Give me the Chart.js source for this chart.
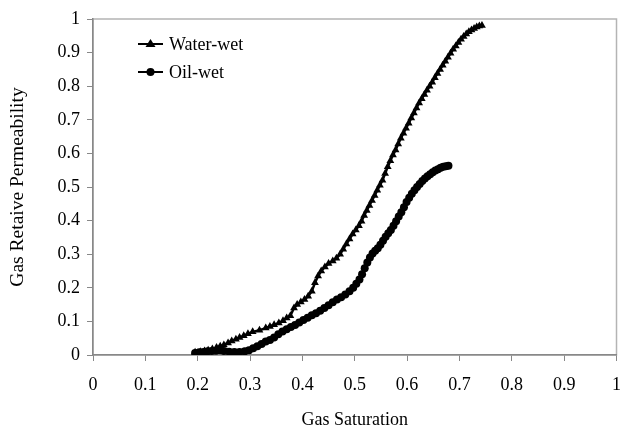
<!DOCTYPE html>
<html>
<head>
<meta charset="utf-8">
<script src="https://cdn.jsdelivr.net/npm/chart.js@4"></script>
<style>
  html, body { margin: 0; padding: 0; background: #fff; }
  #wrap { width: 634px; height: 427px; }
</style>
</head>
<body>
<div id="wrap"><canvas id="chart" width="634" height="427"></canvas></div>
<script>
const seriesNames = ['Water-wet', 'Oil-wet'];
const xTicks = [0, 0.1, 0.2, 0.3, 0.4, 0.5, 0.6, 0.7, 0.8, 0.9, 1];
const yTicks = [0, 0.1, 0.2, 0.3, 0.4, 0.5, 0.6, 0.7, 0.8, 0.9, 1];

// Water-wet: gas saturation / gas relative permeability
const waterSg = [0.195, 0.205, 0.213, 0.22, 0.228, 0.236, 0.243, 0.25, 0.258, 0.265, 0.273, 0.28, 0.288, 0.296, 0.305,
  0.318, 0.33, 0.338, 0.346, 0.355, 0.363, 0.37, 0.377, 0.384, 0.39, 0.397, 0.404, 0.411, 0.418, 0.424, 0.43, 0.436,
  0.443, 0.45, 0.458, 0.465, 0.472, 0.478, 0.484, 0.49, 0.496, 0.502, 0.508, 0.513, 0.518, 0.523, 0.528, 0.533, 0.538,
  0.543, 0.548, 0.553, 0.558, 0.563, 0.568, 0.573, 0.578, 0.583, 0.588, 0.593, 0.598, 0.603, 0.608, 0.613, 0.618,
  0.623, 0.628, 0.633, 0.638, 0.643, 0.648, 0.653, 0.658, 0.663, 0.668, 0.673, 0.678, 0.683, 0.688, 0.693, 0.698,
  0.703, 0.708, 0.713, 0.718, 0.723, 0.728, 0.733, 0.738, 0.743];
const waterKrg = [0.008, 0.010, 0.012, 0.014, 0.018, 0.022, 0.026, 0.03, 0.036, 0.042, 0.047, 0.052, 0.057, 0.063, 0.069,
  0.074, 0.08, 0.085, 0.09, 0.095, 0.102, 0.11, 0.117, 0.14, 0.15, 0.158, 0.165, 0.175, 0.19, 0.215, 0.235, 0.25,
  0.262, 0.272, 0.28, 0.288, 0.3, 0.315, 0.33, 0.345, 0.36, 0.372, 0.385, 0.398, 0.415, 0.43, 0.445, 0.46, 0.475,
  0.49, 0.505, 0.52, 0.54, 0.56, 0.578, 0.595, 0.61, 0.628, 0.645, 0.66, 0.675, 0.69, 0.705, 0.72, 0.735,
  0.75, 0.763, 0.775, 0.788, 0.8, 0.812, 0.825, 0.838, 0.85, 0.862, 0.874, 0.886, 0.898, 0.91, 0.92, 0.93,
  0.94, 0.948, 0.955, 0.962, 0.967, 0.972, 0.976, 0.979, 0.981];

// Oil-wet
const oilSg = [0.195, 0.203, 0.211, 0.219, 0.227, 0.235, 0.243, 0.25, 0.26, 0.27, 0.28, 0.29, 0.298, 0.306, 0.314,
  0.322, 0.33, 0.338, 0.346, 0.354, 0.362, 0.37, 0.378, 0.386, 0.394, 0.402, 0.41, 0.418, 0.426, 0.434, 0.442, 0.45,
  0.458, 0.466, 0.474, 0.482, 0.49, 0.497, 0.503, 0.509, 0.514, 0.519, 0.524, 0.529, 0.534, 0.539, 0.544, 0.549,
  0.554, 0.559, 0.564, 0.569, 0.574, 0.579, 0.584, 0.589, 0.594, 0.599, 0.604, 0.609, 0.614, 0.619, 0.624, 0.629,
  0.634, 0.639, 0.644, 0.649, 0.654, 0.659, 0.664, 0.669, 0.674, 0.679];
const oilKrg = [0.006, 0.008, 0.009, 0.011, 0.012, 0.013, 0.014, 0.012, 0.010, 0.009, 0.009, 0.011, 0.014, 0.02, 0.026,
  0.033, 0.04, 0.045, 0.052, 0.062, 0.07, 0.077, 0.083, 0.089, 0.097, 0.104, 0.111, 0.118, 0.124, 0.132, 0.14, 0.148,
  0.157, 0.165, 0.172, 0.18, 0.19, 0.2, 0.212, 0.225, 0.24, 0.258, 0.275, 0.29, 0.302, 0.31, 0.318, 0.328,
  0.34, 0.352, 0.362, 0.372, 0.385, 0.398, 0.412, 0.425, 0.44, 0.455, 0.468, 0.48, 0.49, 0.5, 0.509, 0.518,
  0.525, 0.532, 0.538, 0.544, 0.549, 0.553, 0.557, 0.56, 0.562, 0.563];

const FONT = 'Liberation Serif, Times New Roman, serif';

function toPoints(xs, ys) {
  return xs.map((x, i) => ({ x: x, y: ys[i] }));
}

// grey frame around plot area (top/right edges)
const framePlugin = {
  id: 'frame',
  beforeDraw(chart) {
    const a = chart.chartArea, ctx = chart.ctx;
    ctx.save();
    ctx.strokeStyle = '#b4b4b4';
    ctx.lineWidth = 1.5;
    ctx.strokeRect(a.left, a.top, a.right - a.left, a.bottom - a.top);
    ctx.restore();
  }
};

// legend inside the plot: short line with marker, then label
const legendPlugin = {
  id: 'insideLegend',
  afterDraw(chart) {
    const ctx = chart.ctx;
    ctx.save();
    chart.data.datasets.forEach((ds, i) => {
      const y = 44 + i * 28;
      ctx.strokeStyle = '#000';
      ctx.lineWidth = 2;
      ctx.beginPath();
      ctx.moveTo(138, y);
      ctx.lineTo(163, y);
      ctx.stroke();
      ctx.fillStyle = '#000';
      if (ds.pointStyle === 'triangle') {
        ctx.beginPath();
        ctx.moveTo(150.5, y - 5);
        ctx.lineTo(155.5, y + 3);
        ctx.lineTo(145.5, y + 3);
        ctx.closePath();
        ctx.fill();
      } else {
        ctx.beginPath();
        ctx.arc(150.5, y, 4, 0, Math.PI * 2);
        ctx.fill();
      }
      ctx.font = '18px ' + FONT;
      ctx.textBaseline = 'middle';
      ctx.fillText(ds.label, 169, y + 1);
    });
    ctx.restore();
  }
};

new Chart(document.getElementById('chart').getContext('2d'), {
  type: 'scatter',
  data: {
    datasets: [
      {
        label: seriesNames[0],
        data: toPoints(waterSg, waterKrg),
        showLine: true,
        borderColor: '#000',
        backgroundColor: '#000',
        borderWidth: 2.5,
        pointStyle: 'triangle',
        pointRadius: 4.5,
        pointBorderWidth: 0
      },
      {
        label: seriesNames[1],
        data: toPoints(oilSg, oilKrg),
        showLine: true,
        borderColor: '#000',
        backgroundColor: '#000',
        borderWidth: 2.5,
        pointStyle: 'circle',
        pointRadius: 4,
        pointBorderWidth: 0
      }
    ]
  },
  options: {
    responsive: false,
    animation: false,
    layout: { padding: { top: 19, right: 6, left: 0, bottom: 0 } },
    plugins: {
      legend: { display: false },
      tooltip: { enabled: false }
    },
    scales: {
      x: {
        type: 'linear',
        min: 0,
        max: 1,
        afterBuildTicks: axis => { axis.ticks = xTicks.map(v => ({ value: v })); },
        afterFit: axis => { axis.height = 72; },
        grid: { drawOnChartArea: false, drawTicks: true, tickLength: 6, color: '#888', lineWidth: 1 },
        border: { color: '#888', width: 1.5 },
        ticks: {
          color: '#000',
          padding: 13,
          maxRotation: 0,
          font: { family: FONT, size: 18 },
          callback: v => String(+v.toFixed(1))
        },
        title: {
          display: true,
          text: 'Gas Saturation',
          color: '#000',
          font: { family: FONT, size: 18 },
          padding: { top: 0, bottom: -4 }
        }
      },
      y: {
        type: 'linear',
        min: 0,
        max: 1,
        afterBuildTicks: axis => { axis.ticks = yTicks.map(v => ({ value: v })); },
        afterFit: axis => { axis.width = 93; },
        grid: { drawOnChartArea: false, drawTicks: true, tickLength: 6, color: '#888', lineWidth: 1 },
        border: { color: '#888', width: 1.5 },
        ticks: {
          color: '#000',
          padding: 7,
          font: { family: FONT, size: 18 },
          callback: v => String(+v.toFixed(1))
        },
        title: {
          display: true,
          text: 'Gas Retaive Permeability',
          color: '#000',
          font: { family: FONT, size: 19.5 },
          padding: { top: 6, bottom: 4 }
        }
      }
    }
  },
  plugins: [framePlugin, legendPlugin]
});
</script>
</body>
</html>
